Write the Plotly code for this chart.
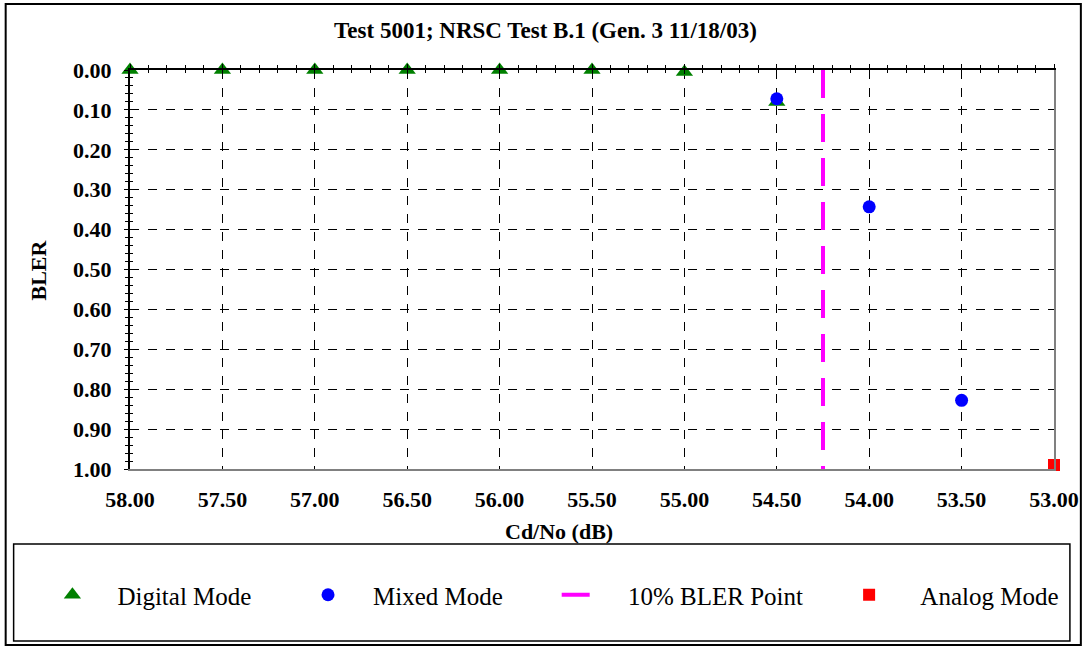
import plotly.graph_objects as go

# Data
digital_x = [58.0, 57.5, 57.0, 56.5, 56.0, 55.5, 55.0, 54.5]
digital_y = [0.0, 0.0, 0.0, 0.0, 0.0, 0.0, 0.005, 0.08]
mixed_x = [54.5, 54.0, 53.5]
mixed_y = [0.072, 0.343, 0.828]
bler_x = [54.25, 54.25]
bler_y = [0.0, 1.0]
analog_x = [53.0]
analog_y = [0.99]

x_ticks = [58.0, 57.5, 57.0, 56.5, 56.0, 55.5, 55.0, 54.5, 54.0, 53.5, 53.0]

W, H = 1091, 649
L, R, T, B = 130, 32, 70, 180
PW, PH = W - L - R, H - T - B

def px(x):
    return (x - L) / PW

def py(y):
    return (H - B - y) / PH

FONT = "Liberation Serif, Times New Roman, serif"
NB = "\u00a0"

fig = go.Figure()
fig.add_trace(go.Scatter(x=digital_x, y=digital_y, mode="markers", name=NB * 4 + "Digital Mode",
                         marker=dict(symbol="triangle-up", size=15, color="#008000"),
                         cliponaxis=False, legend="legend"))
fig.add_trace(go.Scatter(x=mixed_x, y=mixed_y, mode="markers", name=NB * 4 + "Mixed Mode",
                         marker=dict(symbol="circle", size=13, color="#0000FF"),
                         cliponaxis=False, legend="legend2"))
fig.add_trace(go.Scatter(x=bler_x, y=bler_y, mode="lines", name=NB * 5 + "10% BLER Point",
                         line=dict(color="#FF00FF", width=4, dash="28px,16px"), legend="legend3"))
fig.add_trace(go.Scatter(x=analog_x, y=analog_y, mode="markers", name=NB * 5 + "Analog Mode",
                         marker=dict(symbol="square", size=12, color="#FF0000"),
                         cliponaxis=False, legend="legend4"))

xr = [58.0, 53.0]
yr = [1.0, 0.0]

def leg(x_px):
    return dict(orientation="h", x=px(x_px), xanchor="left", y=py(595), yanchor="middle",
                font=dict(size=25, family=FONT), bgcolor="rgba(0,0,0,0)", borderwidth=0,
                itemsizing="trace")

fig.update_layout(
    width=W, height=H,
    margin=dict(l=L, r=R, t=T, b=B),
    paper_bgcolor="white", plot_bgcolor="white",
    font=dict(family=FONT, color="black"),
    title=dict(text="Test 5001; NRSC Test B.1 (Gen. 3 11/18/03)", x=0.5, xref="container",
               y=1 - 30 / H, yref="container", yanchor="middle",
               font=dict(size=23, weight="bold", family=FONT)),
    xaxis=dict(range=xr, tickvals=x_ticks, tickformat=".2f", showgrid=True,
               gridcolor="black", griddash="dash", gridwidth=1,
               showline=True, linecolor="#808080", linewidth=2,
               ticks="", ticklabelstandoff=10,
               tickfont=dict(size=22, weight="bold", family=FONT), zeroline=False),
    xaxis2=dict(range=xr, overlaying="x", side="top", anchor="y", showgrid=False,
                showticklabels=False, showline=True, linecolor="black", linewidth=2,
                tickvals=x_ticks, ticks="outside", ticklen=4, tickcolor="black",
                minor=dict(dtick=0.1, tick0=53.0, ticks="outside", ticklen=3, tickcolor="black"),
                zeroline=False),
    xaxis3=dict(range=xr, overlaying="x", side="top", anchor="y", showgrid=False,
                showticklabels=False, showline=False,
                tickvals=x_ticks, ticks="inside", ticklen=4, tickcolor="black",
                minor=dict(dtick=0.1, tick0=53.0, ticks="inside", ticklen=3, tickcolor="black"),
                zeroline=False),
    yaxis=dict(range=yr, dtick=0.1, tick0=0, tickformat=".2f", showgrid=True,
               gridcolor="black", griddash="dash", gridwidth=1,
               showline=True, linecolor="black", linewidth=2,
               ticks="outside", ticklen=4, tickcolor="black",
               minor=dict(dtick=0.02, tick0=0, ticks="outside", ticklen=3, tickcolor="black", showgrid=False),
               ticklabelstandoff=8,
               tickfont=dict(size=22, weight="bold", family=FONT), zeroline=False),
    yaxis2=dict(range=yr, overlaying="y", side="left", anchor="x", showgrid=False,
                showticklabels=False, showline=False, dtick=0.1, tick0=0,
                ticks="inside", ticklen=4, tickcolor="black",
                minor=dict(dtick=0.02, tick0=0, ticks="inside", ticklen=3, tickcolor="black"),
                zeroline=False),
    yaxis3=dict(range=yr, overlaying="y", side="right", anchor="x", showgrid=False,
                showticklabels=False, showline=True, linecolor="#808080", linewidth=2,
                ticks="", zeroline=False),
    legend=leg(52),
    legend2=leg(309),
    legend3=leg(559),
    legend4=leg(853),
    showlegend=True,
)

# dummy traces to activate overlay axes
fig.add_trace(go.Scatter(x=[None], y=[None], xaxis="x2", yaxis="y", showlegend=False, hoverinfo="skip"))
fig.add_trace(go.Scatter(x=[None], y=[None], xaxis="x3", yaxis="y2", showlegend=False, hoverinfo="skip"))
fig.add_trace(go.Scatter(x=[None], y=[None], xaxis="x", yaxis="y3", showlegend=False, hoverinfo="skip"))

fig.add_annotation(text="<b>Cd/No (dB)</b>", x=px(561), y=py(531), xref="paper", yref="paper",
                   showarrow=False, font=dict(size=22, family=FONT), xanchor="center", yanchor="middle")
fig.add_annotation(text="<b>BLER</b>", x=px(37), y=py(270), xref="paper", yref="paper",
                   showarrow=False, textangle=-90, font=dict(size=22, family=FONT),
                   xanchor="center", yanchor="middle")

# outer chart border and legend box
fig.add_shape(type="rect", xref="paper", yref="paper", x0=px(5), x1=px(1086), y0=py(645), y1=py(4),
              line=dict(color="black", width=2), layer="below")
fig.add_shape(type="rect", xref="paper", yref="paper", x0=px(13), x1=px(1075), y0=py(641), y1=py(544),
              line=dict(color="black", width=1.5), layer="below")

fig.write_html("out.html", config={"displayModeBar": False},
               post_script="document.body.style.margin='0';")
